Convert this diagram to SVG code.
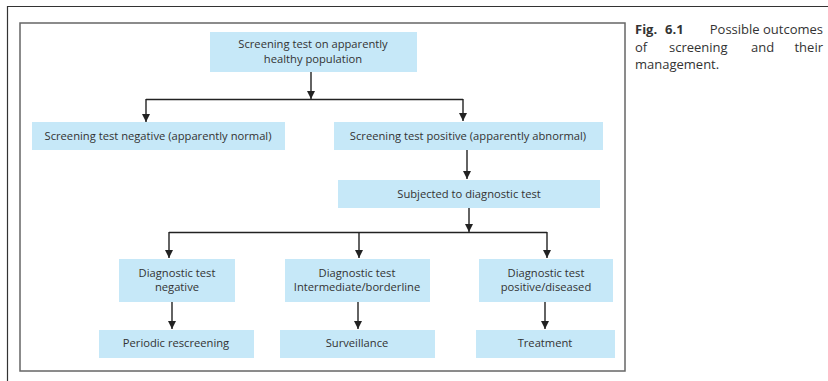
<svg xmlns="http://www.w3.org/2000/svg" width="828" height="381" viewBox="0 0 828 381">
<style>
.bx{fill:#c6e8f8}
.t{font-family:"Open Sans","Liberation Sans",sans-serif;font-size:11.2px;fill:#333;text-anchor:middle}
.cap{font-family:"Open Sans","Liberation Sans",sans-serif;font-size:13px;fill:#333}
.ln{fill:none;stroke:#222;stroke-width:1.4}
</style>
<defs>
<marker id="ah" viewBox="0 0 8 8" refX="8" refY="4" markerWidth="8" markerHeight="8" markerUnits="userSpaceOnUse" orient="auto">
<path d="M0,0 L8,4 L0,8 Z" fill="#222"/>
</marker>
</defs>
<rect width="828" height="381" fill="#fff"/>
<path d="M7.5,381 V6.5 H828" fill="none" stroke="#333" stroke-width="1.2"/>
<rect x="20" y="23" width="605" height="348" fill="none" stroke="#666" stroke-width="1.5"/>

<g id="n1"><rect class="bx" x="210" y="32" width="207" height="40"/>
<text class="t" x="313" y="48">Screening test on apparently</text>
<text class="t" x="313" y="63">healthy population</text></g>
<g id="n2"><rect class="bx" x="32" y="122" width="253" height="28"/>
<text class="t" x="158" y="139.5">Screening test negative (apparently normal)</text></g>
<g id="n3"><rect class="bx" x="334" y="122" width="269" height="28"/>
<text class="t" x="468" y="139.5">Screening test positive (apparently abnormal)</text></g>
<g id="n4"><rect class="bx" x="338" y="180" width="262" height="28"/>
<text class="t" x="469" y="198">Subjected to diagnostic test</text></g>
<g id="n5"><rect class="bx" x="119" y="259" width="116" height="43"/>
<text class="t" x="177" y="277">Diagnostic test</text>
<text class="t" x="177" y="291">negative</text></g>
<g id="n6"><rect class="bx" x="285" y="259" width="145" height="43"/>
<text class="t" x="357" y="277">Diagnostic test</text>
<text class="t" x="357" y="291">Intermediate/borderline</text></g>
<g id="n7"><rect class="bx" x="479" y="259" width="134" height="43"/>
<text class="t" x="546" y="277">Diagnostic test</text>
<text class="t" x="546" y="291">positive/diseased</text></g>
<g id="n8"><rect class="bx" x="99" y="330" width="155" height="28"/>
<text class="t" x="176" y="347">Periodic rescreening</text></g>
<g id="n9"><rect class="bx" x="280" y="330" width="155" height="28"/>
<text class="t" x="357" y="347">Surveillance</text></g>
<g id="n10"><rect class="bx" x="476" y="330" width="139" height="28"/>
<text class="t" x="545" y="347">Treatment</text></g>

<g id="connectors">
<path class="ln" d="M311,72 V99" marker-end="url(#ah)"/>
<path class="ln" d="M146,99.5 H463"/>
<path class="ln" d="M146,99 V122" marker-end="url(#ah)"/>
<path class="ln" d="M463,99 V121" marker-end="url(#ah)"/>
<path class="ln" d="M467,150 V179" marker-end="url(#ah)"/>
<path class="ln" d="M469,208 V232" marker-end="url(#ah)"/>
<path class="ln" d="M169,232.5 H547"/>
<path class="ln" d="M169,232 V258" marker-end="url(#ah)"/>
<path class="ln" d="M359,232 V258" marker-end="url(#ah)"/>
<path class="ln" d="M547,232 V258" marker-end="url(#ah)"/>
<path class="ln" d="M172,302 V329" marker-end="url(#ah)"/>
<path class="ln" d="M358,302 V329" marker-end="url(#ah)"/>
<path class="ln" d="M545,302 V329" marker-end="url(#ah)"/>
</g>

<g id="caption">
<text class="cap" x="635" y="34" font-weight="bold">Fig.</text>
<text class="cap" x="665" y="34" font-weight="bold">6.1</text>
<text class="cap" x="823" y="34" text-anchor="end">Possible outcomes</text>
<text class="cap" x="635" y="51.5">of</text>
<text class="cap" x="669" y="51.5">screening</text>
<text class="cap" x="751" y="51.5">and</text>
<text class="cap" x="823" y="51.5" text-anchor="end">their</text>
<text class="cap" x="635" y="69">management.</text>
</g>
</svg>
